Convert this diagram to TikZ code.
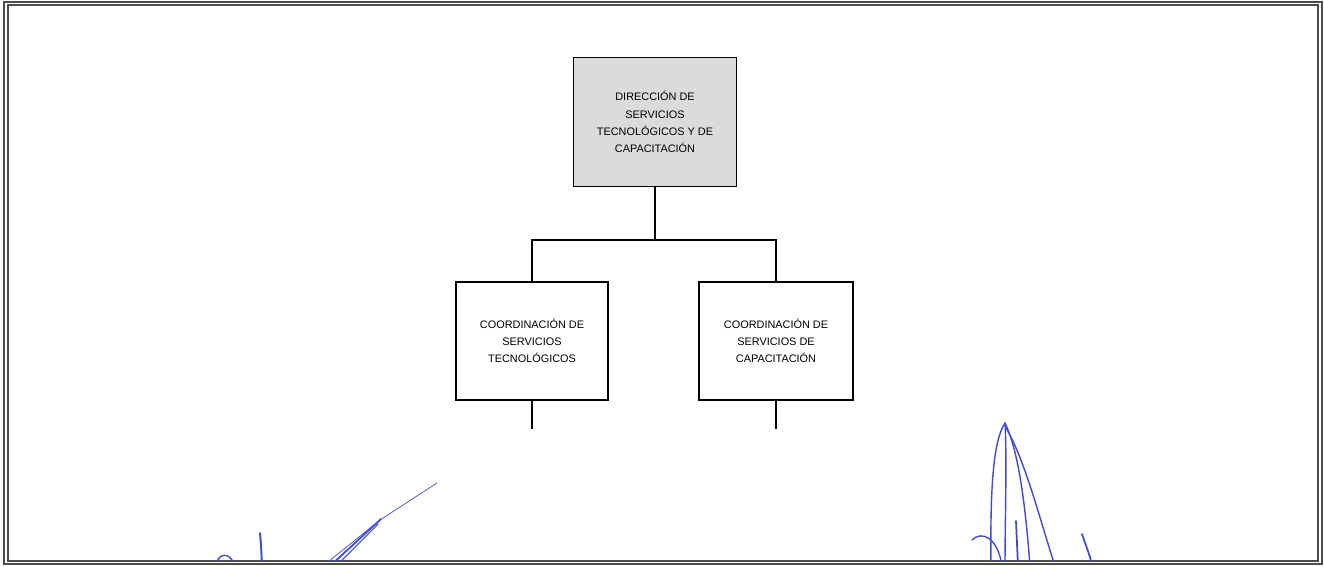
\documentclass[tikz,border=0pt]{standalone}
\usepackage{fontspec}
\setmainfont{Liberation Sans}
\usepackage{tikz}
\usetikzlibrary{positioning, calc}
\definecolor{boxgray}{rgb}{0.86, 0.86, 0.86}
\definecolor{inkblue}{rgb}{0.25, 0.3, 0.8}

\begin{document}
\begin{tikzpicture}[x=0.02cm, y=-0.02cm,
	unitbox/.style={draw=black, line width=1pt, minimum width=3.2cm, minimum height=2.36cm, align=center, font=\fontsize{6.2}{9.8}\selectfont},
	headbox/.style={unitbox, fill=boxgray, minimum width=3.26cm, minimum height=2.58cm},
	link/.style={line width=0.9pt},
	ink/.style={inkblue, line width=0.8pt, line cap=round}]
						\useasboundingbox (0,0) rectangle (1324,566);
						% marco doble
						\draw[line width=0.7pt, black!70] (4,2) rectangle (1322,564);
						\draw[line width=0.7pt, black!70] (8,5) rectangle (1318,561);
						
						\node[headbox] (dir) at (655,122) {DIRECCI\'ON DE\\SERVICIOS\\TECNOL\'OGICOS Y DE\\CAPACITACI\'ON};
						\node[unitbox, minimum width=3.04cm] (tec) at (532,341) {COORDINACI\'ON DE\\SERVICIOS\\TECNOL\'OGICOS};
						\node[unitbox, minimum width=3.08cm] (cap) at (776,341) {COORDINACI\'ON DE\\SERVICIOS DE\\CAPACITACI\'ON};
						
						\coordinate (bar) at (655,240);
						\coordinate (tecend) at (532,429);
						\coordinate (capend) at (776,429);
						\draw[link] (dir.south) -- (bar);
						\draw[link] (tec.north) |- (bar) -| (cap.north);
						\draw[link] (tec.south) -- (tecend);
						\draw[link] (cap.south) -- (capend);
						
						% firmas
						\begin{scope}
						\clip (8,5) rectangle (1318,561);
						\draw[ink] (217,566) .. controls (216,556) and (226,551) .. (232,560) -- (235,566);
						\draw[ink, line width=1.1pt] (260,533) -- (261,545) -- (262,566);
						\draw[ink, line width=0.4pt] (437,483) -- (380,520) -- (323,566);
						\draw[ink, line width=1pt] (381,519) -- (330,566);
						\draw[ink, line width=0.6pt] (378,524) -- (336,566);
						\draw[ink] (991,566) .. controls (990,480) and (994,440) .. (1005,423);
						\draw[ink] (1005,423) .. controls (1007,460) and (1005,520) .. (1005,566);
						\draw[ink] (1005,423) .. controls (1018,450) and (1025,500) .. (1030,566);
						\draw[ink] (1006,428) .. controls (1025,460) and (1040,520) .. (1055,566);
						\draw[ink] (972,540) .. controls (982,530) and (998,538) .. (1002,566);
						\draw[ink, line width=1pt] (1016,521) -- (1018,566);
						\draw[ink, line width=1pt] (1082,534) -- (1090,557) -- (1092,566);
						\end{scope}
						\end{tikzpicture}
\end{document}
